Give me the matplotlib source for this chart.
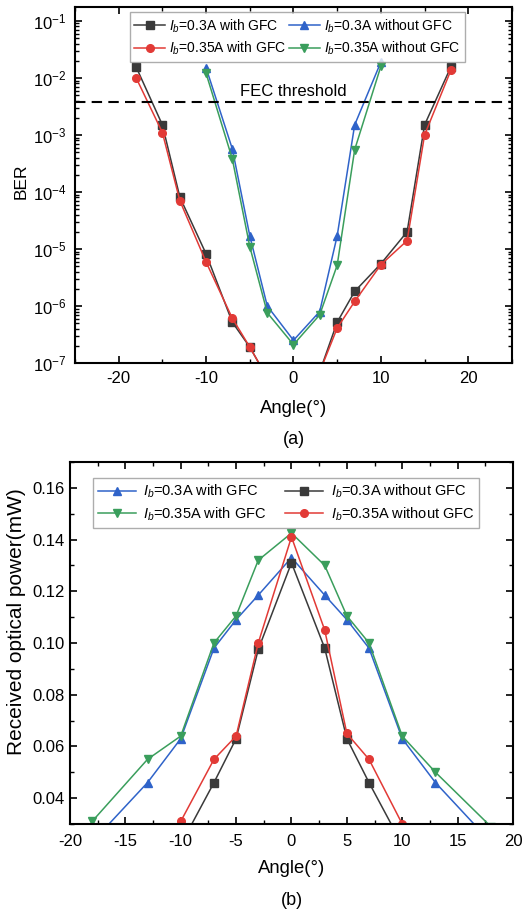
import numpy as np
import matplotlib
matplotlib.use("Agg")
import matplotlib.pyplot as plt
from matplotlib.ticker import LogLocator, MultipleLocator, NullFormatter

plt.rcParams["font.family"] = ["Liberation Sans", "DejaVu Sans"]
plt.rcParams["mathtext.fontset"] = "custom"
plt.rcParams["mathtext.rm"] = "Liberation Sans"
plt.rcParams["mathtext.it"] = "Liberation Sans:italic"
plt.rcParams["axes.unicode_minus"] = False
plt.rcParams["xtick.direction"] = "in"
plt.rcParams["ytick.direction"] = "in"
plt.rcParams["axes.linewidth"] = 1.5

C_BLACK = "#3a3a3a"
C_RED = "#e23a36"
C_BLUE = "#2f63c9"
C_GREEN = "#3a9e5c"

# (a) BER vs angle
ang_gfc = [-18, -15, -13, -10, -7, -5, -3, 0, 3, 5, 7, 10, 13, 15, 18]
ber_03_gfc = [1.55e-2, 1.5e-3, 8.1e-5, 8.2e-6, 5.2e-7, 1.9e-7, 5.5e-8, 2e-8,
              7e-8, 5.2e-7, 1.8e-6, 5.5e-6, 2e-5, 1.5e-3, 1.55e-2]
ber_035_gfc = [1.0e-2, 1.1e-3, 7e-5, 5.9e-6, 6.1e-7, 1.9e-7, 5.5e-8, 2e-8,
               7e-8, 4.1e-7, 1.2e-6, 5.3e-6, 1.4e-5, 1.0e-3, 1.35e-2]
ang_nogfc = [-10, -7, -5, -3, 0, 3, 5, 7, 10]
ber_03_nogfc = [1.5e-2, 5.7e-4, 1.7e-5, 1.0e-6, 2.5e-7, 8e-7, 1.7e-5, 1.5e-3, 1.9e-2]
ber_035_nogfc = [1.2e-2, 3.8e-4, 1.1e-5, 7.6e-7, 2.1e-7, 7e-7, 5.2e-6, 5.5e-4, 1.6e-2]
fec_threshold = 3.8e-3

# (b) received optical power vs angle
ang_b_gfc = [-18, -13, -10, -7, -5, -3, 0, 3, 5, 7, 10, 13, 18]
pow_03_gfc = [0.023, 0.046, 0.063, 0.098, 0.109, 0.1185, 0.133, 0.1185, 0.109,
              0.098, 0.063, 0.046, 0.023]
pow_035_gfc = [0.031, 0.055, 0.064, 0.100, 0.1105, 0.132, 0.1425, 0.130, 0.1105,
               0.100, 0.064, 0.050, 0.029]
ang_b_nogfc = [-10, -7, -5, -3, 0, 3, 5, 7, 10]
pow_03_nogfc = [0.022, 0.046, 0.063, 0.0975, 0.131, 0.098, 0.063, 0.046, 0.022]
pow_035_nogfc = [0.031, 0.055, 0.064, 0.100, 0.141, 0.105, 0.065, 0.055, 0.030]

fig = plt.figure(figsize=(5.27, 9.13), dpi=100)
ax1 = fig.add_axes([0.1423, 0.6024, 0.8292, 0.3899])
ax2 = fig.add_axes([0.1328, 0.0975, 0.8406, 0.3965])

lw = 1.1
ms = 5.5
ax1.plot(ang_gfc, ber_03_gfc, "-s", color=C_BLACK, lw=lw, ms=ms, label=r"$I_b$=0.3A with GFC")
ax1.plot(ang_gfc, ber_035_gfc, "-o", color=C_RED, lw=lw, ms=ms, label=r"$I_b$=0.35A with GFC")
ax1.plot(ang_nogfc, ber_03_nogfc, "-^", color=C_BLUE, lw=lw, ms=ms, label=r"$I_b$=0.3A without GFC")
ax1.plot(ang_nogfc, ber_035_nogfc, "-v", color=C_GREEN, lw=lw, ms=ms, label=r"$I_b$=0.35A without GFC")
ax1.axhline(fec_threshold, color="black", ls=(0, (5, 3)), lw=1.5)
ax1.text(0, fec_threshold * 1.12, "FEC threshold", ha="center", va="bottom", fontsize=12)

ax1.set_yscale("log")
ax1.set_ylim(1e-7, 0.175)
ax1.set_xlim(-25, 25)
ax1.xaxis.set_major_locator(MultipleLocator(10))
ax1.xaxis.set_minor_locator(MultipleLocator(5))
ax1.yaxis.set_major_locator(LogLocator(base=10, numticks=20))
ax1.yaxis.set_minor_locator(LogLocator(base=10, subs=np.arange(2, 10), numticks=20))
ax1.yaxis.set_minor_formatter(NullFormatter())
ax1.set_xlabel("Angle(°)", fontsize=13.3, labelpad=10)
ax1.set_ylabel("BER", fontsize=12.5)
ax1.yaxis.set_label_coords(-0.105, 0.51)
ax1.legend(ncol=2, loc="upper center", bbox_to_anchor=(0.509, 0.997), fontsize=10,
           frameon=True, fancybox=False, edgecolor="#999999", handlelength=2.2,
           columnspacing=0.2, handletextpad=0.3, borderpad=0.35, labelspacing=0.35,
           borderaxespad=0.3)
ax1.text(0.5, -0.215, "(a)", transform=ax1.transAxes, ha="center", va="center", fontsize=13)

ax2.plot(ang_b_gfc, pow_03_gfc, "-^", color=C_BLUE, lw=lw, ms=ms, label=r"$I_b$=0.3A with GFC")
ax2.plot(ang_b_gfc, pow_035_gfc, "-v", color=C_GREEN, lw=lw, ms=ms, label=r"$I_b$=0.35A with GFC")
ax2.plot(ang_b_nogfc, pow_03_nogfc, "-s", color=C_BLACK, lw=lw, ms=ms, label=r"$I_b$=0.3A without GFC")
ax2.plot(ang_b_nogfc, pow_035_nogfc, "-o", color=C_RED, lw=lw, ms=ms, label=r"$I_b$=0.35A without GFC")

ax2.set_xlim(-20, 20)
ax2.set_ylim(0.03, 0.17)
ax2.xaxis.set_major_locator(MultipleLocator(5))
ax2.xaxis.set_minor_locator(MultipleLocator(2.5))
ax2.yaxis.set_major_locator(MultipleLocator(0.02))
ax2.yaxis.set_minor_locator(MultipleLocator(0.01))
ax2.yaxis.set_major_formatter(plt.FormatStrFormatter("%.2f"))
ax2.set_xlabel("Angle(°)", fontsize=13.3, labelpad=8)
ax2.set_ylabel("Received optical power(mW)", fontsize=15)
ax2.yaxis.set_label_coords(-0.1, 0.56)
ax2.legend(ncol=2, loc="upper center", bbox_to_anchor=(0.488, 0.968), fontsize=10.5,
           frameon=True, fancybox=False, edgecolor="#999999", handlelength=2.6,
           columnspacing=1.3, handletextpad=0.5, borderpad=0.35, labelspacing=0.35,
           borderaxespad=0.3)
ax2.text(0.5, -0.21, "(b)", transform=ax2.transAxes, ha="center", va="center", fontsize=13)

for ax in (ax1, ax2):
    ax.tick_params(which="both", top=True, right=True, labelsize=12)
    ax.tick_params(which="major", length=5, width=1.2)
    ax.tick_params(which="minor", length=3, width=1.0)
ax1.tick_params(axis="both", which="major", pad=6)
ax2.tick_params(axis="x", which="major", pad=7)

fig.savefig("out.png", dpi=100)
